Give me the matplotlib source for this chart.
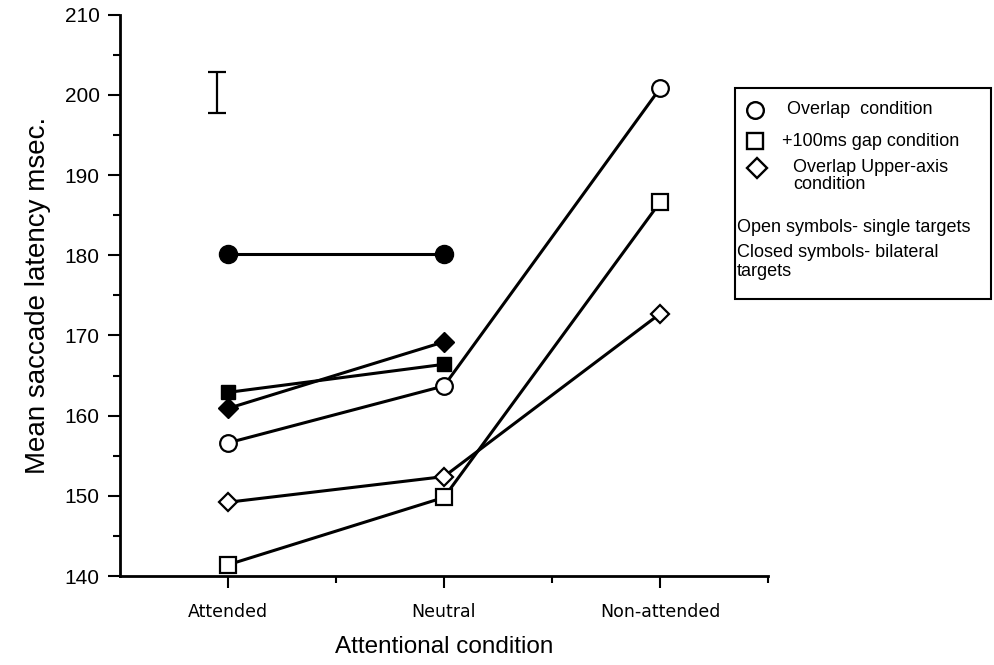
import numpy as np
import matplotlib
matplotlib.use("Agg")
import matplotlib.pyplot as plt
from matplotlib.lines import Line2D
from matplotlib.patches import Rectangle

# data
conditions = ["Attended", "Neutral", "Non-attended"]
overlap_single = [156.6, 163.7, 200.8]
gap_single = [141.4, 149.8, 186.6]
upper_single = [149.2, 152.4, 172.7]
overlap_bilateral = [180.2, 180.2, np.nan]
gap_bilateral = [162.9, 166.4, np.nan]
upper_bilateral = [160.9, 169.2, np.nan]
err_center = 200.35
err_half = 2.55

x = np.arange(len(conditions))

fig = plt.figure(figsize=(9.94, 6.65), dpi=100)
ax = fig.add_axes([0.1207, 0.1338, 0.6519, 0.8441])

lw = 2.2
mew = 1.6
ax.plot(x, overlap_bilateral, "-o", color="black", lw=lw, ms=13, mfc="black", mec="black", zorder=3)
ax.plot(x, gap_bilateral, "-s", color="black", lw=lw, ms=10.5, mfc="black", mec="black", zorder=3)
ax.plot(x, upper_bilateral, "-D", color="black", lw=lw, ms=10, mfc="black", mec="black", zorder=3)
ax.plot(x, overlap_single, "-o", color="black", lw=lw, ms=12, mfc="white", mec="black", mew=mew, zorder=3)
ax.plot(x, gap_single, "-s", color="black", lw=lw, ms=11, mfc="white", mec="black", mew=mew, zorder=3)
ax.plot(x, upper_single, "-D", color="black", lw=lw, ms=9, mfc="white", mec="black", mew=mew, zorder=3)

# representative error bar
ax.errorbar([-0.05], [err_center], yerr=[err_half], fmt="none", ecolor="black",
            elinewidth=1.6, capsize=6.5, capthick=1.6)

ax.set_xlim(-0.5, 2.5)
ax.set_ylim(140, 210)
ax.set_xticks(x)
ax.set_xticklabels(conditions, fontsize=12.5, family="DejaVu Sans")
ax.set_xticks([0.5, 1.5, 2.5], minor=True)
ax.set_yticks(np.arange(140, 211, 10))
ax.set_yticks(np.arange(145, 210, 10), minor=True)
for lab in ax.get_yticklabels():
    lab.set_family("Liberation Sans")
    lab.set_fontsize(15)

ax.tick_params(which="major", length=8.5, width=1.5, direction="out", pad=6)
ax.tick_params(which="minor", length=5, width=1.5, direction="out")
ax.tick_params(axis="x", which="major", pad=11)
for side in ["top", "right"]:
    ax.spines[side].set_visible(False)
for side in ["left", "bottom"]:
    ax.spines[side].set_linewidth(2)

ax.set_ylabel("Mean saccade latency msec.", fontsize=20, family="Liberation Sans", labelpad=10)
ax.set_xlabel("Attentional condition", fontsize=17.5, family="Liberation Sans", labelpad=11)

# hand-drawn style legend box
W, H = 994.0, 665.0
def fx(px):
    return px / W
def fy(py):
    return 1 - py / H

fig.patches.append(Rectangle((fx(735), fy(299)), fx(991) - fx(735), fy(88) - fy(299),
                             transform=fig.transFigure, fill=False, lw=1.5, ec="black"))
for mk, px, py, ms in [("o", 755, 110, 12), ("s", 755, 141, 11), ("D", 757, 168, 10)]:
    fig.add_artist(Line2D([fx(px)], [fy(py)], marker=mk, ms=ms, mfc="white", mec="black",
                          mew=1.7, transform=fig.transFigure))
lf = dict(fontsize=13, family="Liberation Sans", va="center", ha="left")
fig.text(fx(787), fy(110), "Overlap  condition", **lf)
fig.text(fx(782), fy(142), "+100ms gap condition", **lf)
fig.text(fx(793), fy(176), "Overlap Upper-axis\ncondition", linespacing=1.05, **lf)
fig.text(fx(737), fy(227), "Open symbols- single targets", **lf)
fig.text(fx(737), fy(262), "Closed symbols- bilateral\ntargets", linespacing=1.1, **lf)

fig.savefig("out.png", dpi=100)
